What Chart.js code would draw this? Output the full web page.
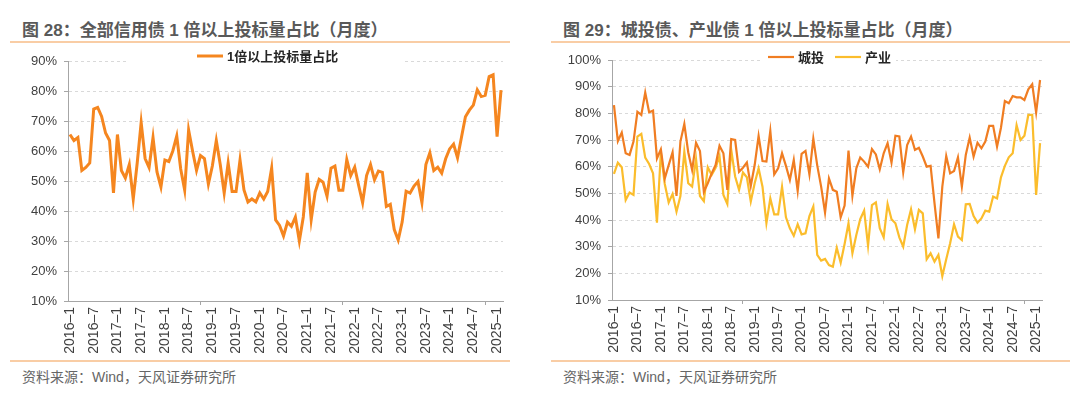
<!DOCTYPE html>
<html>
<head>
<meta charset="utf-8">
<script src="https://cdn.jsdelivr.net/npm/chart.js@4/dist/chart.umd.min.js"></script>
<style>
  body { margin: 0; background: #fff; width: 1080px; height: 398px; overflow: hidden;
         font-family: "Liberation Sans", "Noto Sans CJK SC", sans-serif; }
  .title { position: absolute; top: 16px; font-size: 17px; font-weight: bold; color: #595959; white-space: nowrap; }
  .rule { position: absolute; height: 2px; background: #f9cda5; }
  .foot { position: absolute; top: 366px; font-size: 14px; color: #666; white-space: nowrap; }
  canvas { position: absolute; top: 0; }
</style>
</head>
<body>
<div class="title" style="left:22px">图 28：全部信用债 1 倍以上投标量占比（月度）</div>
<div class="title" style="left:563px">图 29：城投债、产业债 1 倍以上投标量占比（月度）</div>
<div class="rule" style="left:10px;width:500px;top:41px"></div>
<div class="rule" style="left:551px;width:519px;top:41px"></div>
<div class="rule" style="left:10px;width:500px;top:360px"></div>
<div class="rule" style="left:551px;width:519px;top:360px"></div>
<div class="foot" style="left:22px">资料来源：Wind，天风证券研究所</div>
<div class="foot" style="left:563px">资料来源：Wind，天风证券研究所</div>
<canvas id="left" width="540" height="398" style="left:0"></canvas>
<canvas id="right" width="540" height="398" style="left:540px"></canvas>
<script>
// months 2016-1 .. 2025-2
var months = [];
for (var y = 2016; y <= 2025; y++) {
  for (var m = 1; m <= 12; m++) {
    if (y === 2025 && m > 2) break;
    months.push(y + '-' + m);
  }
}

// 图28 全部信用债 1倍以上投标量占比 (%)
var allCredit = [
  65.5, 63.5, 64.5, 53.5, 54.5, 56, 74, 74.5, 71.5, 66, 63.5, 46,
  65.5, 53.5, 51, 55.5, 44, 56, 69.5, 57.5, 54.5, 64.5, 53, 48,
  57, 56.5, 60, 65, 54, 47, 67, 60, 53.5, 58.5, 57.5, 49,
  55, 63.5, 55.5, 46, 56, 46.5, 46.5, 57, 47, 43, 44, 43,
  46, 44, 46.5, 54.3, 37, 35.2, 31.7, 36.3, 34.9, 38, 30, 38,
  52.7, 37.1, 46.3, 50.5, 49.6, 44.9, 54.3, 55, 46.9, 46.9, 57.1, 51.8,
  54.6, 48.5, 42.8, 51.8, 55.5, 50.4, 53.3, 52.9, 41.5, 42.2, 33.8, 30.3,
  36.3, 46.6, 46, 48.3, 49.8, 42.8, 55.5, 59.4, 53.5, 54.6, 52.6, 57.4,
  60.7, 62.3, 57.7, 64.6, 71.4, 73.6, 75.3, 80.4, 78.2, 78.6, 84.8, 85.4,
  64.8, 80.3
];

// 图29 城投
var chengtou = [
  83.1, 69.6, 72.8, 65, 64.4, 69.4, 80.6, 79.4, 87.8, 80.4, 81, 63.1,
  66.5, 55.6, 60.6, 65.4, 49, 69.4, 76, 65.4, 58.8, 69, 65.9, 50.6,
  53.8, 57.5, 60.6, 67.8, 65, 51.3, 70.3, 70, 58.1, 59.6, 61.6, 52.8,
  60.6, 71.5, 62.1, 61.9, 73.4, 57.1, 59.4, 65, 60.3, 55, 62.5, 50.9,
  64.8, 65.9, 57.1, 70.5, 60.5, 52.5, 42.8, 55.6, 51.3, 50.6, 41, 45.4,
  66, 49.1, 59.4, 63.4, 61.9, 60, 66.6, 64.6, 59, 65, 68.8, 61.5,
  71.6, 71.3, 57.9, 68.1, 71.3, 66.3, 67.1, 63.8, 60, 60.3, 46.3, 33.1,
  52.5, 64, 57.5, 58.4, 63.5, 52.5, 64.4, 70.9, 63.8, 69, 66.9, 69.4,
  75.3, 75.3, 67.5, 74.6, 84.6, 83.8, 86.5, 86, 86, 85, 89, 90.9,
  80.3, 92.5
];

// 图29 产业
var chanye = [
  57.3, 61.5, 59.8, 47.5, 50.3, 49.4, 71.3, 72.3, 63.4, 61, 57.5, 39,
  65.3, 53.5, 46.6, 49.8, 43.1, 49, 65.6, 53.8, 52.5, 62.8, 49, 47.1,
  59.8, 56.9, 59.6, 64, 49.4, 46, 66.3, 56.3, 51.3, 57.8, 56, 46.9,
  53.8, 59.4, 52.5, 38.8, 48.1, 42.1, 42.1, 52.5, 41, 36.9, 34.1, 38.4,
  34.6, 35, 41.5, 45.1, 26.9, 24.8, 25.4, 23.1, 22.5, 29.6, 24, 31,
  38.8, 27.5, 34.4, 40.3, 43.5, 30.4, 45.6, 46.6, 36.9, 33.5, 46, 40.3,
  38.8, 33.5, 30, 38.1, 44, 36.5, 43.8, 42.5, 25.3, 27.5, 24.4, 26.9,
  19, 25.3, 31.3, 38.4, 33.8, 32.5, 45.9, 46, 41.5, 39, 40.6, 43.5,
  43.1, 48.8, 48.1, 56, 60.3, 63.5, 65, 75.6, 70, 71.6, 79.4, 79.4,
  49.4, 68.8
];

var FONT = '"Liberation Sans", "Noto Sans CJK SC", sans-serif';

var legendBox = {
  id: 'legendBox',
  afterDraw: function (chart, args, opts) {
    var c = chart.ctx;
    c.save();
    c.fillStyle = '#fff';
    c.fillRect(opts.bg[0], opts.bg[1], opts.bg[2], opts.bg[3]);
    c.font = 'bold 13px ' + FONT;
    c.textBaseline = 'middle';
    opts.items.forEach(function (it) {
      c.strokeStyle = it.color;
      c.lineWidth = it.width;
      c.beginPath();
      c.moveTo(it.x, opts.y);
      c.lineTo(it.x + 26, opts.y);
      c.stroke();
      c.fillStyle = '#262626';
      c.fillText(it.text, it.x + 30, opts.y + 1);
    });
    c.restore();
  }
};

function xAxis(h) {
  return {
    type: 'category',
    offset: true,
    afterFit: function (s) { s.height = h; },
    grid: {
      offset: true,
      drawOnChartArea: false,
      tickLength: 4,
      tickColor: function (ctx) { return ctx.index % 6 === 0 ? '#a6a6a6' : 'rgba(0,0,0,0)'; }
    },
    border: { color: '#a6a6a6', width: 1 },
    ticks: {
      autoSkip: false,
      maxRotation: 90,
      minRotation: 90,
      padding: 2,
      color: '#404040',
      font: { family: FONT, size: 14 },
      callback: function (v, i) {
        var parts = months[i].split('-');
        return (parts[1] === '1' || parts[1] === '7') ? parts[0] + '–' + parts[1] : null;
      }
    }
  };
}

function yAxis(w, max) {
  return {
    min: 10,
    max: max,
    afterFit: function (s) { s.width = w; },
    grid: { color: '#d9d9d9', tickLength: 4, tickColor: '#a6a6a6', tickBorderDash: [] },
    border: { color: '#a6a6a6', dash: [3, 3] },
    ticks: {
      stepSize: 10,
      padding: 7,
      color: '#404040',
      font: { family: FONT, size: 13 },
      callback: function (v) { return v + '%'; }
    }
  };
}

new Chart(document.getElementById('left').getContext('2d'), {
  type: 'line',
  data: {
    labels: months,
    datasets: [{
      label: '1倍以上投标量占比',
      data: allCredit,
      borderColor: '#f5861f',
      borderWidth: 3,
      pointRadius: 0,
      tension: 0
    }]
  },
  options: {
    responsive: false,
    animation: false,
    layout: { padding: { left: 0, top: 61, right: 37, bottom: 0 } },
    plugins: {
      legend: { display: false },
      tooltip: { enabled: false },
      legendBox: { bg: [127, 48, 276, 16], y: 56,
        items: [{ x: 197, color: '#f5861f', width: 3, text: '1倍以上投标量占比' }] }
    },
    scales: { x: xAxis(97), y: yAxis(68, 90) }
  },
  plugins: [legendBox]
});

new Chart(document.getElementById('right').getContext('2d'), {
  type: 'line',
  data: {
    labels: months,
    datasets: [{
      label: '城投',
      data: chengtou,
      borderColor: '#f07d22',
      borderWidth: 2.2,
      pointRadius: 0,
      tension: 0
    }, {
      label: '产业',
      data: chanye,
      borderColor: '#fbbd2c',
      borderWidth: 2.2,
      pointRadius: 0,
      tension: 0
    }]
  },
  options: {
    responsive: false,
    animation: false,
    layout: { padding: { left: 0, top: 60, right: 38, bottom: 0 } },
    plugins: {
      legend: { display: false },
      tooltip: { enabled: false },
      legendBox: { bg: [220, 49, 136, 16], y: 57,
        items: [{ x: 228, color: '#f07d22', width: 2.2, text: '城投' },
                { x: 295, color: '#fbbd2c', width: 2.2, text: '产业' }] }
    },
    scales: { x: xAxis(98), y: yAxis(72, 100) }
  },
  plugins: [legendBox]
});
</script>
</body>
</html>
